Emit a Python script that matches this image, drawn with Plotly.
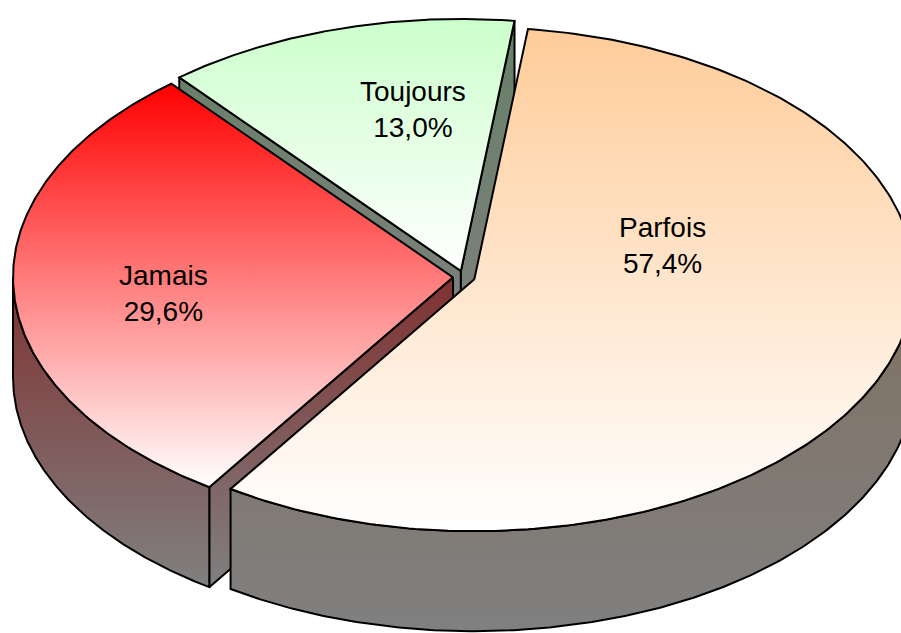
import numpy as np
import plotly.graph_objects as go

# ---- data ----
labels = ["Parfois", "Jamais", "Toujours"]
shares = [57.4, 29.6, 13.0]
top_colors = ["#FFCC99", "#FF0000", "#CCFFCC"]

# ---- 3D pie layout (pixel space of the plot area) ----
W, H = 901, 633
CX, CY = 464.0, 277.0      # pie centre
RX, RY = 440.0, 252.0      # radii of the top ellipse
DEPTH = 100.0              # thickness of the pie
EXPLODE = 0.025            # radial offset of each slice (fraction of radius)
START_DEG = 7.0            # angle of the first slice, clockwise from 12 o'clock
OUTLINE = dict(color="black", width=2)
LABEL_POS = {"Parfois": (662, 245), "Jamais": (163, 293), "Toujours": (413, 109)}


def hex_rgb(h):
    h = h.lstrip("#")
    return tuple(int(h[i:i + 2], 16) for i in (0, 2, 4))


def rgb(c):
    return "rgb(%d,%d,%d)" % tuple(int(round(v)) for v in c)


def mix(c1, c2, f):
    return tuple(a + (b - a) * f for a, b in zip(c1, c2))


def shade(c, k=0.5):
    return tuple(v * k for v in c)


WHITE = (255, 255, 255)


def rim(t_deg, ox, oy, dy=0.0):
    t = np.radians(t_deg)
    return CX + ox + RX * np.sin(t), CY + oy - RY * np.cos(t) + dy


def face(fig, xs, ys, c_top, c_bot, y0=None, y1=None, mid=None):
    xs = list(xs) + [xs[0]]
    ys = list(ys) + [ys[0]]
    y0 = min(ys) if y0 is None else y0
    y1 = max(ys) if y1 is None else y1
    scale = [[0, rgb(c_top)], [1, rgb(c_bot)]]
    if mid is not None:
        scale = [[0, rgb(c_top)], [mid[0], rgb(mid[1])], [1, rgb(c_bot)]]
    fig.add_trace(go.Scatter(
        x=xs, y=ys, mode="lines", fill="toself",
        fillgradient=dict(type="vertical", colorscale=scale, start=y0, stop=y1),
        line=OUTLINE, hoverinfo="skip", showlegend=False,
    ))


total = sum(shares)
slices = []
a0 = START_DEG
for lab, val, col in zip(labels, shares, top_colors):
    a1 = a0 + 360.0 * val / total
    m = np.radians((a0 + a1) / 2)
    ox = EXPLODE * RX * np.sin(m)
    oy = -EXPLODE * RY * np.cos(m)
    slices.append(dict(label=lab, val=val, col=hex_rgb(col), t0=a0, t1=a1,
                       ox=ox, oy=oy, far=np.cos(m)))
    a0 = a1

fig = go.Figure()

# paint from the back of the pie to the front
for s in sorted(slices, key=lambda s: -s["far"]):
    t0, t1, ox, oy, col = s["t0"], s["t1"], s["ox"], s["oy"], s["col"]
    ax, ay = CX + ox, CY + oy
    ts = np.linspace(t0, t1, 240)
    rx, ry = rim(ts, ox, oy)
    top_y0, top_y1 = float(min(ry.min(), ay)), float(max(ry.max(), ay))
    side_top = shade(col, 0.5)
    side_bot = (128, 128, 128)
    y_lo = top_y0
    y_hi = top_y1 + DEPTH

    # radial cut faces that face the viewer
    for t, visible in ((t0, np.sin(np.radians(t0)) < 0),
                       (t1, np.sin(np.radians(t1)) > 0)):
        if not visible:
            continue
        px, py = rim(t, ox, oy)
        face(fig, [ax, px, px, ax], [ay, py, py + DEPTH, ay + DEPTH],
             side_top, side_bot, y_lo, y_hi)

    # outer curved wall (front half only)
    w0, w1 = max(t0, 90.0), min(t1, 270.0)
    if w1 > w0:
        tw = np.linspace(w0, w1, 240)
        wx, wy = rim(tw, ox, oy)
        xs = np.concatenate([wx, wx[::-1]])
        ys = np.concatenate([wy, (wy + DEPTH)[::-1]])
        face(fig, xs, ys, side_top, side_bot, y_lo, y_hi)

    # top surface
    xs = np.concatenate([[ax], rx])
    ys = np.concatenate([[ay], ry])
    face(fig, xs, ys, col, WHITE, top_y0, top_y1)

for s in slices:
    x, y = LABEL_POS[s["label"]]
    fig.add_annotation(
        x=x, y=y, xref="x", yref="y", showarrow=False,
        text="%s<br>%s%%" % (s["label"], ("%.1f" % s["val"]).replace(".", ",")),
        font=dict(family="Liberation Sans, Arial, sans-serif", size=28, color="black"),
        align="center",
    )

fig.update_layout(
    width=W, height=H, margin=dict(l=0, r=0, t=0, b=0),
    paper_bgcolor="white", plot_bgcolor="white",
    xaxis=dict(range=[0, W], visible=False, fixedrange=True),
    yaxis=dict(range=[H, 0], visible=False, fixedrange=True),
    showlegend=False, hovermode=False,
)

fig.write_html("out.html", config={"displayModeBar": False})
